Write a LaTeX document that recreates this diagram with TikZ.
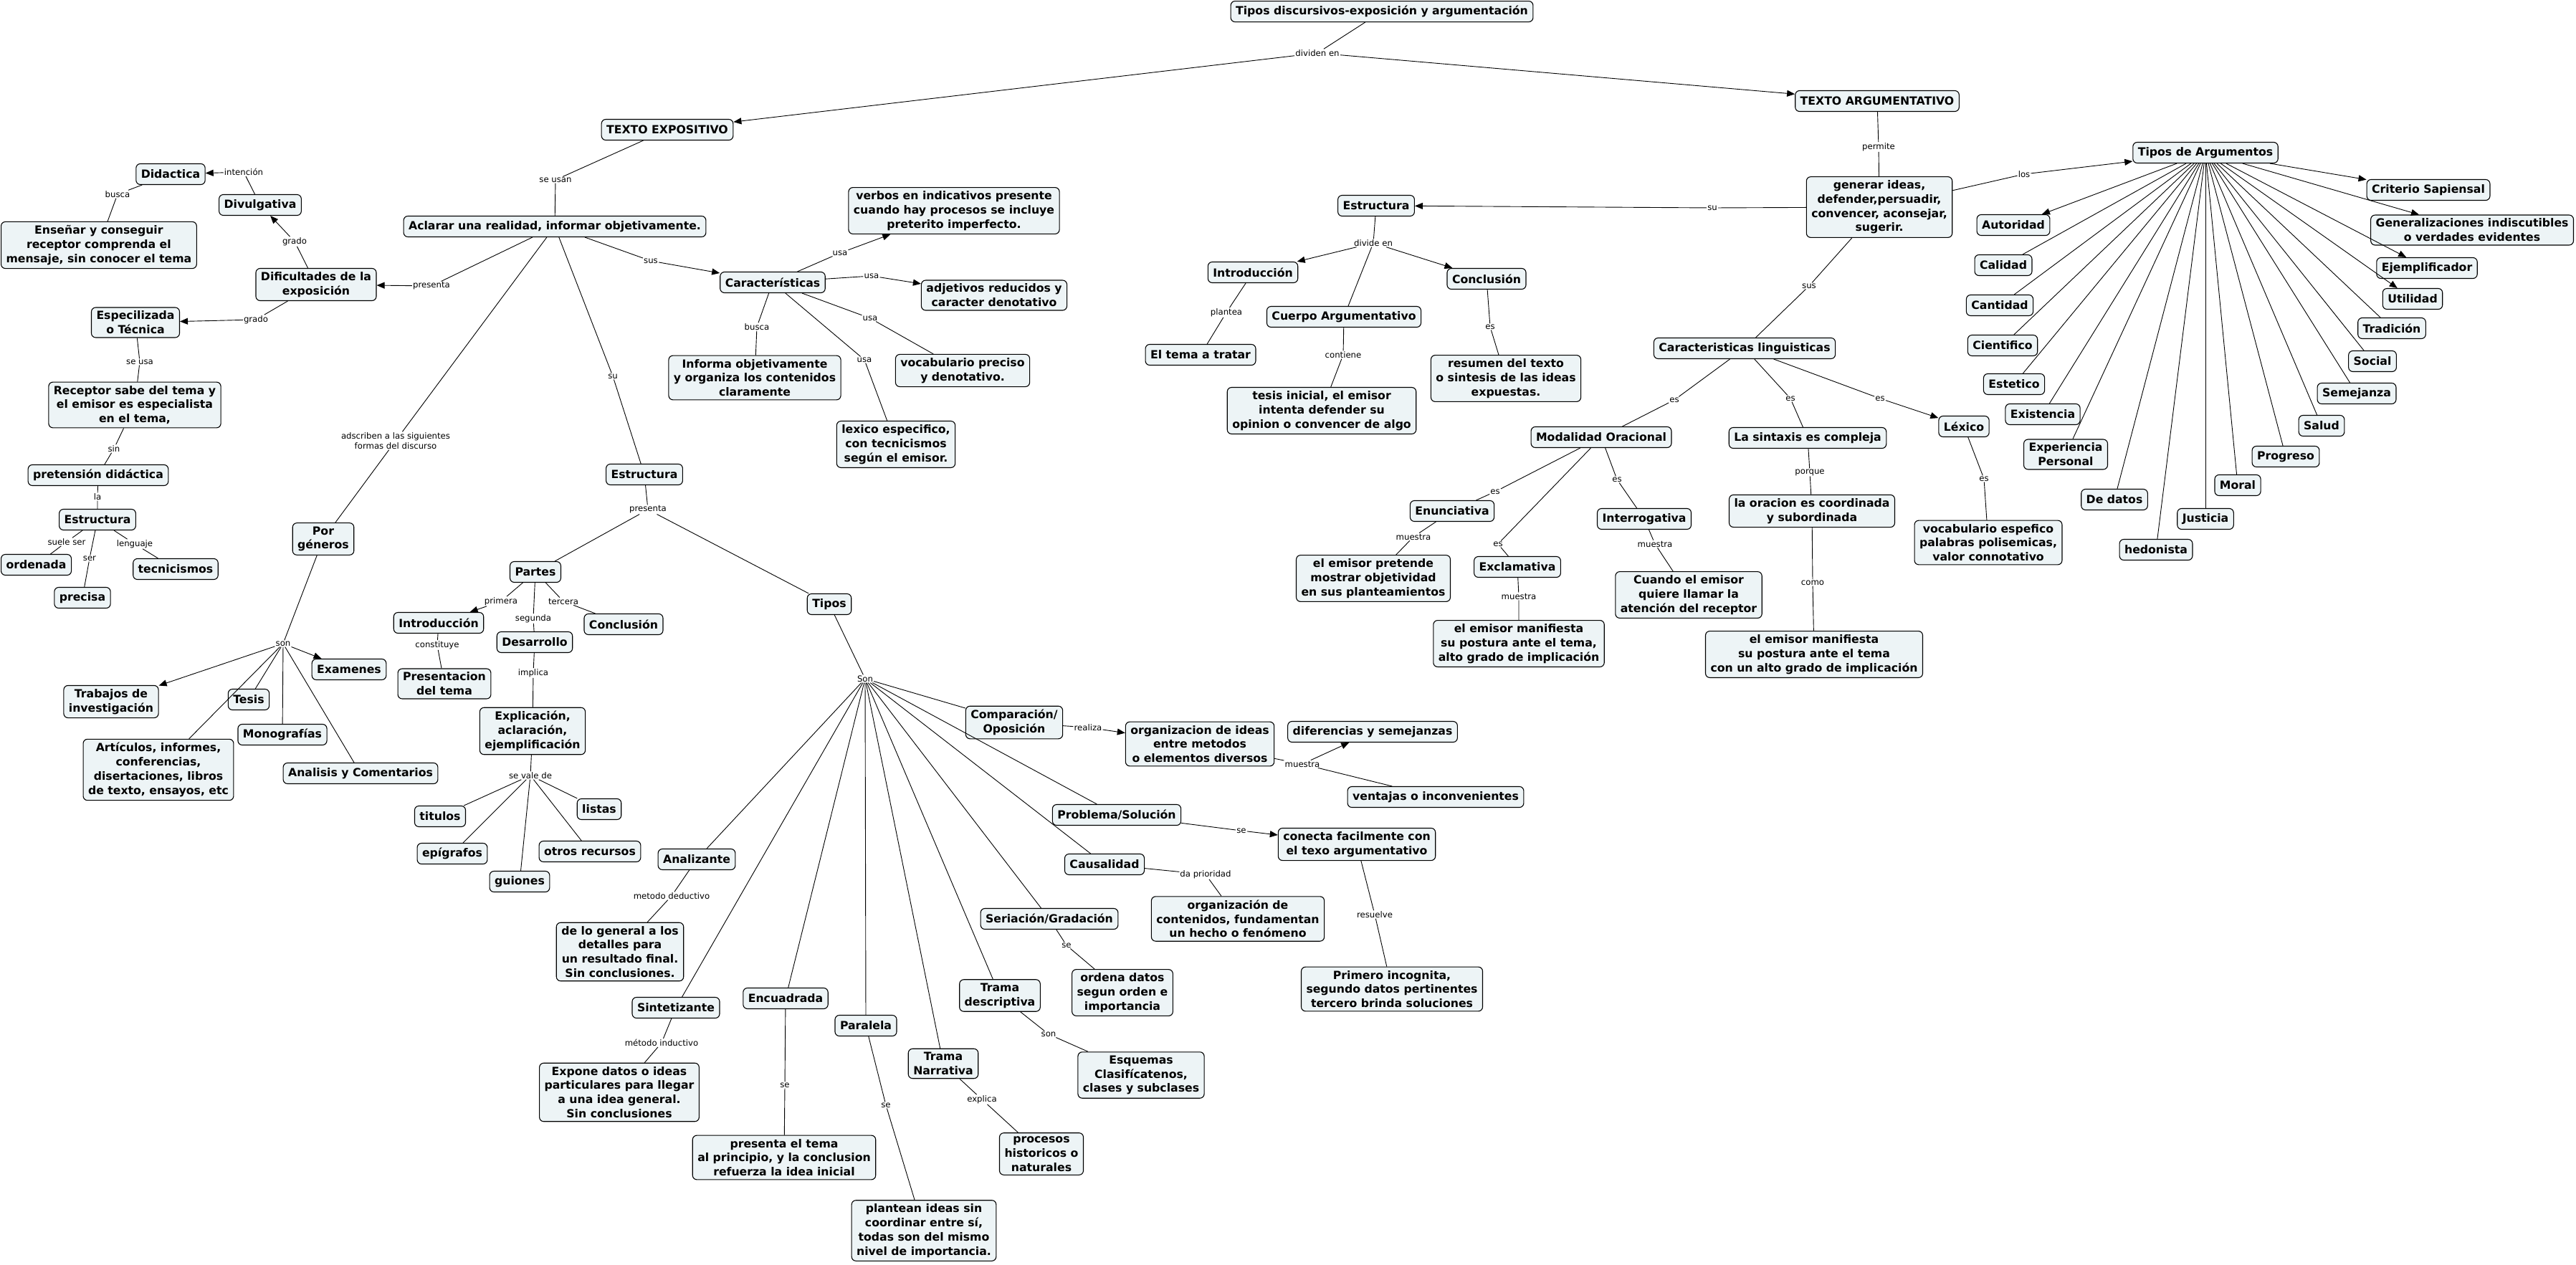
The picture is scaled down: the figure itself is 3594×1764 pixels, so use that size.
\documentclass[tikz,border=0pt]{standalone}
\usepackage{fontspec}
\setmainfont{DejaVu Sans}
\usetikzlibrary{arrows.meta}
\definecolor{cmapfill}{RGB}{237,244,246}

\tikzset{
  concept/.style={draw=black, line width=1.1pt, rounded corners=6pt, fill=cmapfill, align=center,
                  inner xsep=7pt, inner ysep=5pt, minimum height=29pt,
                  font=\fontsize{15.7}{19.8}\selectfont\bfseries},
  lbl/.style={fill=white, inner sep=1pt, align=center, font=\fontsize{11.7}{14}\selectfont},
  link/.style={line width=0.9pt},
  arrlink/.style={line width=0.9pt, -{Triangle[length=11pt,width=9pt]}},
}

\begin{document}
\begin{tikzpicture}[x=1pt, y=-1pt]
\useasboundingbox (0,0) rectangle (3594,1764);

% top and first level
\node[concept, anchor=north] (tdisc) at (1928,1) {Tipos discursivos-exposición y argumentación};
\node[concept] (texpo) at (931,181) {TEXTO EXPOSITIVO};
\node[concept] (targu) at (2619,141) {TEXTO ARGUMENTATIVO};

% texto expositivo, left part
\node[concept] (aclarar) at (774,316) {Aclarar una realidad, informar objetivamente.};
\node[concept] (dific) at (441,397) {Dificultades de la\\exposición};
\node[concept] (divulg) at (363,286) {Divulgativa};
\node[concept] (didac) at (238,243) {Didactica};
\node[concept, anchor=west] (ensenar) at (1,342) {Enseñar y conseguir\\receptor comprenda el\\mensaje, sin conocer el tema};
\node[concept] (especial) at (189,450) {Especilizada\\o Técnica};
\node[concept] (receptor) at (188,565) {Receptor sabe del tema y\\el emisor es especialista\\en el tema,};
\node[concept] (pretension) at (137,663) {pretensión didáctica};
\node[concept] (estrizq) at (136,725) {Estructura};
\node[concept, anchor=west] (ordenada) at (1,788) {ordenada};
\node[concept] (tecnic) at (245,794) {tecnicismos};
\node[concept] (precisa) at (115,834) {precisa};

% generos
\node[concept] (generos) at (451,752) {Por\\géneros};
\node[concept] (trabajos) at (155,979) {Trabajos de\\investigación};
\node[concept] (tesis) at (347,976) {Tesis};
\node[concept] (monogr) at (394,1025) {Monografías};
\node[concept] (articulos) at (221,1074) {Artículos, informes,\\conferencias,\\disertaciones, libros\\de texto, ensayos, etc};
\node[concept] (analisis) at (503,1079) {Analisis y Comentarios};
\node[concept] (examenes) at (487,934) {Examenes};

% caracteristicas
\node[concept] (caract) at (1078,394) {Características};
\node[concept] (verbos) at (1331,294) {verbos en indicativos presente\\cuando hay procesos se incluye\\preterito imperfecto.};
\node[concept] (adjet) at (1387,412) {adjetivos reducidos y\\caracter denotativo};
\node[concept] (vocprec) at (1343,517) {vocabulario preciso\\y denotativo.};
\node[concept] (lexico) at (1250,620) {lexico especifico,\\con tecnicismos\\según el emisor.};
\node[concept] (informa) at (1053,527) {Informa objetivamente\\y organiza los contenidos\\claramente};

% estructura expositiva
\node[concept] (estrexpo) at (899,662) {Estructura};
\node[concept] (partes) at (747,798) {Partes};
\node[concept] (tipos) at (1157,843) {Tipos};
\node[concept] (intro1) at (612,869) {Introducción};
\node[concept] (concl1) at (870,871) {Conclusión};
\node[concept] (desarr) at (746,896) {Desarrollo};
\node[concept] (present) at (620,954) {Presentacion\\del tema};
\node[concept] (explic) at (743,1020) {Explicación,\\aclaración,\\ejemplificación};
\node[concept] (titulos) at (614,1139) {titulos};
\node[concept] (listas) at (836,1129) {listas};
\node[concept] (epigr) at (631,1191) {epígrafos};
\node[concept] (otros) at (823,1188) {otros recursos};
\node[concept] (guiones) at (725,1230) {guiones};

% tipos
\node[concept] (analiz) at (972,1199) {Analizante};
\node[concept] (general) at (865,1328) {de lo general a los\\detalles para\\un resultado final.\\Sin conclusiones.};
\node[concept] (sintet) at (943,1406) {Sintetizante};
\node[concept] (expone) at (864,1524) {Expone datos o ideas\\particulares para llegar\\a una idea general.\\Sin conclusiones};
\node[concept] (encuad) at (1096,1393) {Encuadrada};
\node[concept] (prestema) at (1094,1615) {presenta el tema\\al principio, y la conclusion\\refuerza la idea inicial};
\node[concept] (paralela) at (1208,1431) {Paralela};
\node[concept] (plantean) at (1289,1717) {plantean ideas sin\\coordinar entre sí,\\todas son del mismo\\nivel de importancia.};
\node[concept] (narrat) at (1316,1484) {Trama\\Narrativa};
\node[concept] (procesos) at (1453,1610) {procesos\\historicos o\\naturales};
\node[concept] (descript) at (1395,1389) {Trama\\descriptiva};
\node[concept] (esquemas) at (1592,1500) {Esquemas\\Clasifícatenos,\\clases y subclases};
\node[concept] (seriac) at (1464,1282) {Seriación/Gradación};
\node[concept] (ordena) at (1566,1385) {ordena datos\\segun orden e\\importancia};
\node[concept] (causal) at (1541,1206) {Causalidad};
\node[concept] (orgcont) at (1727,1282) {organización de\\contenidos, fundamentan\\un hecho o fenómeno};
\node[concept] (compar) at (1415,1008) {Comparación/\\Oposición};
\node[concept] (orgideas) at (1674,1038) {organizacion de ideas\\entre metodos\\o elementos diversos};
\node[concept] (difer) at (1915,1021) {diferencias y semejanzas};
\node[concept] (ventajas) at (2003,1112) {ventajas o inconvenientes};
\node[concept] (problema) at (1558,1137) {Problema/Solución};
\node[concept] (conecta) at (1893,1178) {conecta facilmente con\\el texo argumentativo};
\node[concept] (primero) at (1942,1380) {Primero incognita,\\segundo datos pertinentes\\tercero brinda soluciones};

% texto argumentativo
\node[concept] (generar) at (2622,289) {generar ideas,\\defender,persuadir,\\convencer, aconsejar,\\sugerir.};
\node[concept] (estrarg) at (1920,287) {Estructura};
\node[concept] (intro2) at (1748,380) {Introducción};
\node[concept] (concl2) at (2074,389) {Conclusión};
\node[concept] (cuerpo) at (1875,442) {Cuerpo Argumentativo};
\node[concept] (tema) at (1675,495) {El tema a tratar};
\node[concept] (tesisini) at (1844,573) {tesis inicial, el emisor\\intenta defender su\\opinion o convencer de algo};
\node[concept] (resumen) at (2101,528) {resumen del texto\\o sintesis de las ideas\\expuestas.};
\node[concept] (carling) at (2434,486) {Caracteristicas linguisticas};
\node[concept] (modal) at (2234,610) {Modalidad Oracional};
\node[concept] (sintax) at (2522,611) {La sintaxis es compleja};
\node[concept] (lexarg) at (2740,595) {Léxico};
\node[concept] (enunc) at (2026,713) {Enunciativa};
\node[concept] (exclam) at (2117,791) {Exclamativa};
\node[concept] (interr) at (2294,724) {Interrogativa};
\node[concept] (pretende) at (1916,807) {el emisor pretende\\mostrar objetividad\\en sus planteamientos};
\node[concept] (manif1) at (2119,898) {el emisor manifiesta\\su postura ante el tema,\\alto grado de implicación};
\node[concept] (cuando) at (2356,830) {Cuando el emisor\\quiere llamar la\\atención del receptor};
\node[concept] (oracion) at (2528,713) {la oracion es coordinada\\y subordinada};
\node[concept] (manif2) at (2531,913) {el emisor manifiesta\\su postura ante el tema\\con un alto grado de implicación};
\node[concept] (vocesp) at (2774,757) {vocabulario espefico\\palabras polisemicas,\\valor connotativo};

% tipos de argumentos
\node[concept] (tda) at (3077,213) {Tipos de Argumentos};
\node[concept] (criterio) at (3388,265) {Criterio Sapiensal};
\node[concept, anchor=east] (generaliz) at (3591,321) {Generalizaciones indiscutibles\\o verdades evidentes};
\node[concept] (ejempl) at (3386,374) {Ejemplificador};
\node[concept] (utilidad) at (3366,417) {Utilidad};
\node[concept] (tradicion) at (3337,458) {Tradición};
\node[concept] (social) at (3310,504) {Social};
\node[concept] (semejanza) at (3288,549) {Semejanza};
\node[concept] (salud) at (3239,594) {Salud};
\node[concept] (progreso) at (3189,637) {Progreso};
\node[concept] (moral) at (3122,677) {Moral};
\node[concept] (justicia) at (3077,724) {Justicia};
\node[concept] (hedon) at (3008,767) {hedonista};
\node[concept] (dedatos) at (2950,697) {De datos};
\node[concept] (experien) at (2882,634) {Experiencia\\Personal};
\node[concept] (existen) at (2850,578) {Existencia};
\node[concept] (estetico) at (2810,536) {Estetico};
\node[concept] (cientif) at (2794,482) {Cientifico};
\node[concept] (cantidad) at (2790,426) {Cantidad};
\node[concept] (calidad) at (2795,370) {Calidad};
\node[concept] (autoridad) at (2809,314) {Autoridad};

% linking phrases
\node[lbl] (l_div) at (1838,74) {dividen en};
\node[lbl] (l_seusan) at (775,251) {se usan};
\node[lbl] (l_pres1) at (602,399) {presenta};
\node[lbl] (l_grado1) at (411,337) {grado};
\node[lbl] (l_grado2) at (357,446) {grado};
\node[lbl] (l_intenc) at (340,240) {intención};
\node[lbl] (l_busca1) at (164,271) {busca};
\node[lbl] (l_seusa) at (195,505) {se usa};
\node[lbl] (l_sin) at (159,626) {sin};
\node[lbl] (l_la) at (136,693) {la};
\node[lbl] (l_suele) at (93,756) {suele ser};
\node[lbl] (l_ser) at (125,779) {ser};
\node[lbl] (l_leng) at (188,759) {lenguaje};
\node[lbl] (l_adscr) at (552,615) {adscriben a las siguientes\\formas del discurso};
\node[lbl] (l_son1) at (395,898) {son};
\node[lbl] (l_sus1) at (908,364) {sus};
\node[lbl] (l_usa1) at (1172,353) {usa};
\node[lbl] (l_usa2) at (1216,385) {usa};
\node[lbl] (l_usa3) at (1214,444) {usa};
\node[lbl] (l_usa4) at (1206,502) {usa};
\node[lbl] (l_busca2) at (1056,456) {busca};
\node[lbl] (l_su1) at (855,525) {su};
\node[lbl] (l_pres2) at (904,711) {presenta};
\node[lbl] (l_prim) at (699,839) {primera};
\node[lbl] (l_seg) at (744,863) {segunda};
\node[lbl] (l_terc) at (786,839) {tercera};
\node[lbl] (l_const) at (610,900) {constituye};
\node[lbl] (l_impl) at (744,939) {implica};
\node[lbl] (l_vale) at (740,1082) {se vale de};
\node[lbl] (l_Son) at (1207,947) {Son};
\node[lbl] (l_deduc) at (937,1250) {metodo deductivo};
\node[lbl] (l_induc) at (923,1455) {método inductivo};
\node[lbl] (l_se1) at (1095,1514) {se};
\node[lbl] (l_se2) at (1236,1542) {se};
\node[lbl] (l_expl) at (1370,1534) {explica};
\node[lbl] (l_son2) at (1463,1443) {son};
\node[lbl] (l_se3) at (1488,1319) {se};
\node[lbl] (l_prior) at (1682,1220) {da prioridad};
\node[lbl] (l_realiza) at (1518,1015) {realiza};
\node[lbl] (l_muestra1) at (1817,1066) {muestra};
\node[lbl] (l_se4) at (1732,1159) {se};
\node[lbl] (l_resuelve) at (1918,1276) {resuelve};
\node[lbl] (l_permite) at (2621,205) {permite};
\node[lbl] (l_su2) at (2389,290) {su};
\node[lbl] (l_los) at (2824,243) {los};
\node[lbl] (l_sus2) at (2524,399) {sus};
\node[lbl] (l_divide) at (1916,339) {divide en};
\node[lbl] (l_plantea) at (1711,436) {plantea};
\node[lbl] (l_contiene) at (1874,495) {contiene};
\node[lbl] (l_es1) at (2079,456) {es};
\node[lbl] (l_es2) at (2336,558) {es};
\node[lbl] (l_es3) at (2498,556) {es};
\node[lbl] (l_es4) at (2623,556) {es};
\node[lbl] (l_es5) at (2086,686) {es};
\node[lbl] (l_es6) at (2090,759) {es};
\node[lbl] (l_es7) at (2256,669) {es};
\node[lbl] (l_muestra2) at (1972,749) {muestra};
\node[lbl] (l_muestra3) at (2119,832) {muestra};
\node[lbl] (l_muestra4) at (2309,759) {muestra};
\node[lbl] (l_porque) at (2525,659) {porque};
\node[lbl] (l_como) at (2529,813) {como};
\node[lbl] (l_es8) at (2768,668) {es};

% connectors
\draw[link] (tdisc) -- (l_div);
\draw[arrlink] (l_div) -- (texpo);
\draw[arrlink] (l_div) -- (targu);
\draw[link] (texpo) -- (l_seusan) -- (aclarar);
\draw[arrlink] (aclarar) -- (l_pres1) -- (dific);
\draw[arrlink] (dific) -- (l_grado1) -- (divulg);
\draw[arrlink] (dific) -- (l_grado2) -- (especial);
\draw[arrlink] (divulg) -- (l_intenc) -- (didac);
\draw[link] (didac) -- (l_busca1) -- (ensenar);
\draw[link] (especial) -- (l_seusa) -- (receptor);
\draw[link] (receptor) -- (l_sin) -- (pretension);
\draw[link] (pretension) -- (l_la) -- (estrizq);
\draw[link] (estrizq) -- (l_suele) -- (ordenada);
\draw[link] (estrizq) -- (l_ser) -- (precisa);
\draw[link] (estrizq) -- (l_leng) -- (tecnic);
\draw[link] (aclarar) -- (l_adscr) -- (generos);
\draw[link] (generos) -- (l_son1);
\draw[arrlink] (l_son1) -- (trabajos);
\draw[arrlink] (l_son1) -- (examenes);
\foreach \n in {tesis,monogr,articulos,analisis} \draw[link] (l_son1) -- (\n);
\draw[arrlink] (aclarar) -- (l_sus1) -- (caract);
\draw[arrlink] (caract) -- (l_usa1) -- (verbos);
\draw[arrlink] (caract) -- (l_usa2) -- (adjet);
\draw[link] (caract) -- (l_usa3) -- (vocprec);
\draw[link] (caract) -- (l_usa4) -- (lexico);
\draw[link] (caract) -- (l_busca2) -- (informa);
\draw[link] (aclarar) -- (l_su1) -- (estrexpo);
\draw[link] (estrexpo) -- (l_pres2);
\draw[link] (l_pres2) -- (partes);
\draw[link] (l_pres2) -- (tipos);
\draw[arrlink] (partes) -- (l_prim) -- (intro1);
\draw[link] (partes) -- (l_seg) -- (desarr);
\draw[link] (partes) -- (l_terc) -- (concl1);
\draw[link] (intro1) -- (l_const) -- (present);
\draw[link] (desarr) -- (l_impl) -- (explic);
\draw[link] (explic) -- (l_vale);
\foreach \n in {titulos,listas,epigr,otros,guiones} \draw[link] (l_vale) -- (\n);
\draw[link] (tipos) -- (l_Son);
\foreach \n in {compar,problema,causal,seriac,descript,narrat,paralela,encuad,sintet,analiz}
  \draw[link] (l_Son) -- (\n);
\draw[link] (analiz) -- (l_deduc) -- (general);
\draw[link] (sintet) -- (l_induc) -- (expone);
\draw[link] (encuad) -- (l_se1) -- (prestema);
\draw[link] (paralela) -- (l_se2) -- (plantean);
\draw[link] (narrat) -- (l_expl) -- (procesos);
\draw[link] (descript) -- (l_son2) -- (esquemas);
\draw[link] (seriac) -- (l_se3) -- (ordena);
\draw[link] (causal) -- (l_prior) -- (orgcont);
\draw[arrlink] (compar) -- (l_realiza) -- (orgideas);
\draw[link] (orgideas) -- (l_muestra1);
\draw[arrlink] (l_muestra1) -- (difer);
\draw[link] (l_muestra1) -- (ventajas);
\draw[arrlink] (problema) -- (l_se4) -- (conecta);
\draw[link] (conecta) -- (l_resuelve) -- (primero);
\draw[link] (targu) -- (l_permite) -- (generar);
\draw[arrlink] (generar) -- (l_su2) -- (estrarg);
\draw[arrlink] (generar) -- (l_los) -- (tda);
\draw[link] (generar) -- (l_sus2) -- (carling);
\draw[link] (estrarg) -- (l_divide);
\draw[arrlink] (l_divide) -- (intro2);
\draw[arrlink] (l_divide) -- (concl2);
\draw[link] (l_divide) -- (cuerpo);
\draw[link] (intro2) -- (l_plantea) -- (tema);
\draw[link] (cuerpo) -- (l_contiene) -- (tesisini);
\draw[link] (concl2) -- (l_es1) -- (resumen);
\draw[link] (carling) -- (l_es2) -- (modal);
\draw[link] (carling) -- (l_es3) -- (sintax);
\draw[arrlink] (carling) -- (l_es4) -- (lexarg);
\draw[link] (modal) -- (l_es5) -- (enunc);
\draw[link] (modal) -- (l_es6) -- (exclam);
\draw[link] (modal) -- (l_es7) -- (interr);
\draw[link] (enunc) -- (l_muestra2) -- (pretende);
\draw[link] (exclam) -- (l_muestra3) -- (manif1);
\draw[link] (interr) -- (l_muestra4) -- (cuando);
\draw[link] (sintax) -- (l_porque) -- (oracion);
\draw[link] (oracion) -- (l_como) -- (manif2);
\draw[link] (lexarg) -- (l_es8) -- (vocesp);
\foreach \n in {autoridad,criterio,generaliz,ejempl,utilidad} \draw[arrlink] (tda) -- (\n);
\foreach \n in {calidad,cantidad,cientif,estetico,existen,experien,dedatos,hedon,justicia,moral,progreso,salud,semejanza,social,tradicion}
  \draw[link] (tda) -- (\n);
\end{tikzpicture}
\end{document}
